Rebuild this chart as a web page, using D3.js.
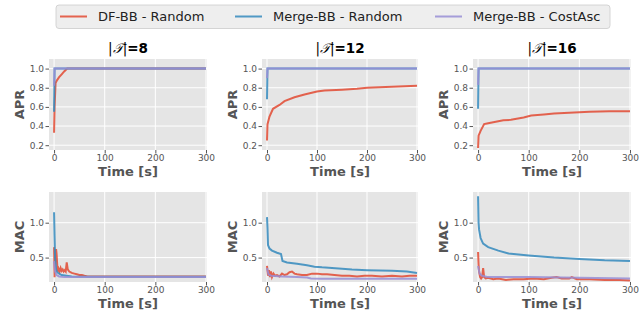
<!DOCTYPE html>
<html>
<head>
<meta charset="utf-8">
<script src="https://cdn.jsdelivr.net/npm/d3@7/dist/d3.min.js"></script>
<style>
  body { margin: 0; background: #fff; }
  text { font-family: "DejaVu Sans", sans-serif; }
</style>
</head>
<body>
<svg id="chart" width="639" height="320"></svg>
<script>
// series names and colours
const seriesNames = ['DF-BB - Random', 'Merge-BB - Random', 'Merge-BB - CostAsc'];
const colors = ['#E24A33', '#348ABD', '#988ED5'];
const panelTitles = ['8', '12', '16'];
const xTicks = [0, 100, 200, 300];
const aprTicks = [0.2, 0.4, 0.6, 0.8, 1.0];
const macTicks = [0.5, 1.0];

// APR, |T|=8   ([time, value])
const apr8_df = [[0,0.33],[1,0.6],[3,0.85],[6,0.88],[10,0.91],[15,0.94],[20,0.97],[26,1.0],[300,1.0]];
const apr8_mr = [[0,0.55],[1,1.0],[300,1.0]];
const apr8_mc = [[0,0.82],[1,1.0],[300,1.0]];
// APR, |T|=12
const apr12_df = [[0,0.25],[1,0.42],[5,0.5],[12,0.58],[25,0.62],[35,0.66],[55,0.7],[75,0.73],[100,0.76],[115,0.77],[150,0.78],[180,0.79],[200,0.8],[250,0.81],[300,0.82]];
const apr12_mr = [[0,0.68],[1,1.0],[300,1.0]];
const apr12_mc = [[0,0.9],[1,1.0],[300,1.0]];
// APR, |T|=16
const apr16_df = [[0,0.17],[1,0.3],[5,0.35],[12,0.42],[20,0.43],[40,0.45],[50,0.46],[65,0.465],[90,0.49],[105,0.51],[130,0.52],[150,0.53],[180,0.54],[220,0.55],[260,0.555],[300,0.555]];
const apr16_mr = [[0,0.58],[1,1.0],[300,1.0]];
const apr16_mc = [[0,0.83],[1,1.0],[300,1.0]];

// MAC, |T|=8
const mac8_df = [[0,0.65],[1,0.22],[2,0.5],[4,0.62],[5,0.55],[7,0.3],[9,0.34],[11,0.3],[13,0.35],[15,0.31],[17,0.33],[19,0.3],[21,0.32],[23,0.3],[25,0.43],[27,0.33],[30,0.3],[35,0.28],[40,0.27],[45,0.26],[50,0.25],[55,0.25],[60,0.24],[66,0.23],[300,0.23]];
const mac8_mr = [[0,1.15],[1,0.8],[2,0.5],[4,0.33],[6,0.29],[10,0.27],[15,0.25],[25,0.24],[35,0.23],[50,0.225],[300,0.225]];
const mac8_mc = [[0,0.45],[2,0.3],[5,0.25],[10,0.23],[20,0.22],[300,0.22]];
// MAC, |T|=12
const mac12_df = [[0,0.38],[2,0.24],[4,0.32],[6,0.22],[8,0.3],[10,0.22],[13,0.27],[16,0.24],[20,0.25],[25,0.23],[30,0.27],[35,0.25],[40,0.26],[45,0.29],[50,0.3],[55,0.27],[60,0.26],[70,0.25],[80,0.25],[90,0.27],[100,0.27],[110,0.26],[120,0.26],[135,0.25],[150,0.24],[165,0.24],[180,0.23],[195,0.24],[210,0.24],[230,0.23],[250,0.24],[270,0.23],[285,0.24],[300,0.24]];
const mac12_mr = [[0,1.08],[1,0.92],[2,0.68],[5,0.63],[10,0.6],[20,0.57],[28,0.55],[31,0.45],[40,0.43],[60,0.41],[80,0.39],[95,0.37],[110,0.36],[130,0.35],[170,0.33],[200,0.32],[250,0.31],[280,0.3],[300,0.28]];
const mac12_mc = [[0,0.35],[3,0.26],[8,0.24],[30,0.23],[60,0.22],[80,0.215],[88,0.2],[110,0.195],[300,0.195]];
// MAC, |T|=16
const mac16_df = [[0,0.58],[1,0.4],[2,0.3],[4,0.22],[6,0.2],[8,0.22],[10,0.35],[12,0.22],[15,0.2],[20,0.21],[30,0.19],[40,0.2],[55,0.18],[70,0.19],[90,0.19],[110,0.2],[130,0.19],[145,0.21],[155,0.22],[165,0.2],[180,0.2],[185,0.22],[195,0.19],[220,0.19],[250,0.18],[280,0.18],[300,0.17]];
const mac16_mr = [[0,1.38],[1,1.0],[2,0.9],[5,0.78],[10,0.7],[20,0.65],[40,0.6],[60,0.56],[100,0.53],[150,0.5],[200,0.48],[250,0.46],[300,0.45]];
const mac16_mc = [[0,0.38],[3,0.27],[8,0.24],[20,0.22],[100,0.22],[200,0.21],[300,0.2]];

const aprData = [[apr8_df, apr8_mr, apr8_mc], [apr12_df, apr12_mr, apr12_mc], [apr16_df, apr16_mr, apr16_mc]];
const macData = [[mac8_df, mac8_mr, mac8_mc], [mac12_df, mac12_mr, mac12_mc], [mac16_df, mac16_mr, mac16_mc]];

const svg = d3.select('#chart');

// panel geometry
const colX = [[49, 207], [262, 418], [473, 631]];
const rows = [
  {y: [59, 150], domain: [0.15, 1.1], ticks: aprTicks, label: 'APR', data: aprData},
  {y: [192, 282], domain: [0.15, 1.44], ticks: macTicks, label: 'MAC', data: macData}
];

rows.forEach((row, ri) => {
  colX.forEach((cx, ci) => {
    const x = d3.scaleLinear().domain([-10, 302]).range(cx);
    const y = d3.scaleLinear().domain(row.domain).range([row.y[1], row.y[0]]);
    const g = svg.append('g');

    g.append('rect').attr('x', cx[0]).attr('y', row.y[0])
      .attr('width', cx[1] - cx[0]).attr('height', row.y[1] - row.y[0])
      .attr('fill', '#E5E5E5');

    // grid
    g.selectAll('.gx').data(xTicks).enter().append('line')
      .attr('x1', d => x(d)).attr('x2', d => x(d))
      .attr('y1', row.y[0]).attr('y2', row.y[1])
      .attr('stroke', '#fff').attr('stroke-width', 1);
    g.selectAll('.gy').data(row.ticks).enter().append('line')
      .attr('x1', cx[0]).attr('x2', cx[1])
      .attr('y1', d => y(d)).attr('y2', d => y(d))
      .attr('stroke', '#fff').attr('stroke-width', 1);

    const clipId = `clip${ri}${ci}`;
    svg.append('clipPath').attr('id', clipId).append('rect')
      .attr('x', cx[0]).attr('y', row.y[0])
      .attr('width', cx[1] - cx[0]).attr('height', row.y[1] - row.y[0]);

    const line = d3.line().x(d => x(d[0])).y(d => y(d[1]));
    row.data[ci].forEach((s, si) => {
      g.append('path').datum(s)
        .attr('d', line)
        .attr('fill', 'none')
        .attr('stroke', colors[si])
        .attr('stroke-width', 2)
        .attr('stroke-opacity', 0.85)
        .attr('clip-path', `url(#${clipId})`);
    });

    // axes
    const xAxis = g.append('g').attr('transform', `translate(0,${row.y[1]})`)
      .call(d3.axisBottom(x).tickValues(xTicks).tickSize(3.5).tickPadding(1.5));
    const yAxis = g.append('g').attr('transform', `translate(${cx[0]},0)`)
      .call(d3.axisLeft(y).tickValues(row.ticks).tickFormat(d3.format('.1f')).tickSize(3.5).tickPadding(1.5));
    [xAxis, yAxis].forEach(a => {
      a.select('.domain').remove();
      a.selectAll('.tick line').attr('stroke', '#555');
      a.selectAll('.tick text').attr('fill', '#555')
        .attr('font-size', 9).attr('font-family', 'DejaVu Sans');
    });

    g.append('text')
      .attr('x', (cx[0] + cx[1]) / 2).attr('y', row.y[1] + 26)
      .attr('text-anchor', 'middle')
      .attr('font-size', 13).attr('font-weight', 'bold').attr('fill', '#555')
      .text('Time [s]');

    g.append('text')
      .attr('transform', `translate(${cx[0] - 25},${(row.y[0] + row.y[1]) / 2}) rotate(-90)`)
      .attr('text-anchor', 'middle')
      .attr('font-size', 13).attr('font-weight', 'bold').attr('fill', '#555')
      .text(row.label);

    if (ri === 0) {
      const t = g.append('text')
        .attr('x', (cx[0] + cx[1]) / 2).attr('y', row.y[0] - 6)
        .attr('text-anchor', 'middle')
        .attr('font-size', 13.5).attr('fill', '#000');
      t.append('tspan').text('|');
      t.append('tspan').attr('font-style', 'italic').attr('font-family', 'DejaVu Serif').text('𝒯');
      t.append('tspan').text('|');
      t.append('tspan').attr('font-weight', 'bold').text('=' + panelTitles[ci]);
    }
  });
});

// legend
const lg = svg.append('g');
lg.append('rect').attr('x', 56).attr('y', 5).attr('width', 554).attr('height', 23.5)
  .attr('rx', 3).attr('fill', '#EEEEEE').attr('stroke', '#CCCCCC').attr('stroke-width', 0.8);
const legendX = [60, 235, 435];
seriesNames.forEach((name, i) => {
  lg.append('line').attr('x1', legendX[i]).attr('x2', legendX[i] + 27)
    .attr('y1', 16.5).attr('y2', 16.5)
    .attr('stroke', colors[i]).attr('stroke-width', 2).attr('stroke-opacity', 0.85);
  lg.append('text').attr('x', legendX[i] + 38).attr('y', 21)
    .attr('font-size', 13).attr('fill', '#222').text(name);
});
</script>
</body>
</html>
